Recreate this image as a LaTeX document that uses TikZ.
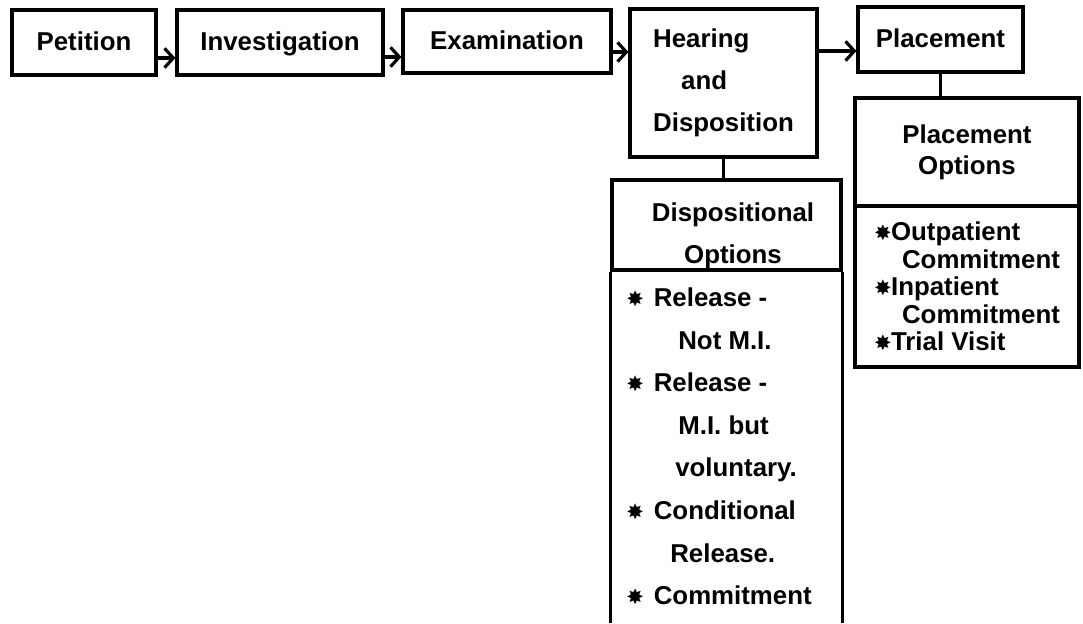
\documentclass[tikz,border=0pt]{standalone}
\usepackage{fontspec}
\setmainfont{Liberation Sans}
\newfontfamily\starfont{DejaVu Sans}
\usetikzlibrary{arrows.meta, positioning}
\newcommand{\itm}[1][0.55cm]{\makebox[#1][l]{\starfont\fontsize{12}{12}\selectfont ✸}}
\newcommand{\tightlines}{\setlength{\lineskiplimit}{-20pt}}
\tikzset{
	stage/.style={
		draw,
		line width=1.8pt,
		inner sep=0pt,
		align=center,
		font={\bfseries\fontsize{14.7}{24}\selectfont}
	},
	oneline/.style={
		text height=0.95em,
		text depth=0.05em
	},
	items/.style={
		inner sep=0pt,
		align=left,
		font={\bfseries\fontsize{14.7}{#1}\selectfont\tightlines}
	},
	flow/.style={
		-{Straight Barb[length=5pt,width=11pt]},
		line width=1.8pt
	},
	link/.style={
		line width=1.8pt
	}
}

\begin{document}
\begin{tikzpicture}[x=0.02cm, y=-0.02cm]
		\useasboundingbox (0,0) rectangle (1083,623);
		% stages
		\node [stage, oneline, minimum width=2.88cm, minimum height=1.30cm] (petition) at (84,42.5) {Petition};
		\node [stage, oneline, minimum width=4.12cm, minimum height=1.30cm] (investigation) at (280,42.5) {Investigation};
		\node [stage, oneline, minimum width=4.16cm, minimum height=1.26cm] (examination) at (507,41.5) {Examination};
		\node [stage, align=left, minimum width=3.74cm, minimum height=2.96cm] (hearing) at (723.5,83) {Hearing\\\hspace*{0.56cm}and\\Disposition};
		\node [stage, oneline, minimum width=3.30cm, minimum height=1.30cm] (placement) at (940.5,39.5) {Placement};
		
		\draw [flow] (petition.east |- 0,58) -- (investigation.west |- 0,58);
		\draw [flow] (investigation.east |- 0,57) -- (examination.west |- 0,57);
		\draw [flow] (examination.east |- 0,52) -- (hearing.west |- 0,52);
		\draw [flow] (hearing.east |- 0,51) -- (placement.west |- 0,51);
		
		% placement options
		\node [stage, font={\bfseries\fontsize{14.7}{17.6}\selectfont}, minimum width=4.48cm, minimum height=2.16cm] (placeHead) at (967,152) {Placement\\Options};
		\node [stage, items=15.6pt, minimum width=4.48cm, minimum height=3.22cm] (placeList) at (967,286.5) {\itm[0.34cm]Outpatient\\\hspace*{0.56cm}Commitment\\\itm[0.34cm]Inpatient\\\hspace*{0.56cm}Commitment\\\itm[0.34cm]Trial Visit};
		\draw [link] (placement.south) -- (placement.south |- placeHead.north);
		
		% dispositional options
		\node [stage, minimum width=4.58cm, minimum height=1.80cm] (dispHead) at (726.5,225) {};
		\node [items=24.2pt, align=center] (dispTitle) at (733,236) {Dispositional\\Options};
		\node [items=24.2pt, anchor=west] (dispList) at (626,446.5) {\itm Release -\\\hspace*{1.04cm}Not M.I.\\\itm Release -\\\hspace*{1.04cm}M.I. but\\\hspace*{0.98cm}voluntary.\\\itm Conditional\\\hspace*{0.88cm}Release.\\\itm Commitment};
		\draw [link] (hearing.south) -- (hearing.south |- dispHead.north);
		\draw [link] (dispHead.south west) -- (dispHead.south west |- 0,623);
		\draw [link] (dispHead.south east) -- (dispHead.south east |- 0,623);
\end{tikzpicture}
\end{document}
